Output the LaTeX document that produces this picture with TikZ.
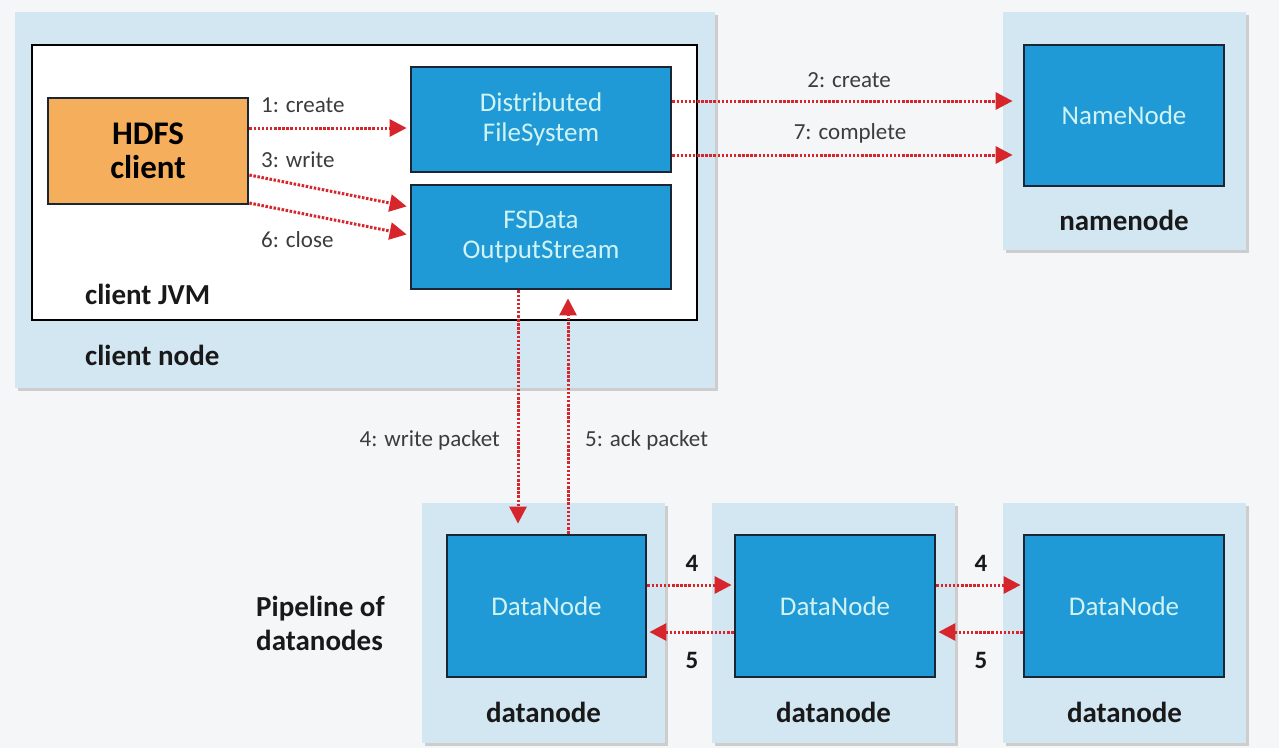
\documentclass[tikz,border=0pt]{standalone}
\usepackage{fontspec}
\setmainfont{Carlito}
\usetikzlibrary{arrows.meta,shadows}
\definecolor{bg}{HTML}{F5F6F8}
\definecolor{nodebg}{HTML}{D3E7F3}
\definecolor{comp}{HTML}{1F9AD6}
\definecolor{comptext}{HTML}{D2F3F3}
\definecolor{compborder}{HTML}{1A2633}
\definecolor{orangebox}{HTML}{F5AE5B}
\definecolor{arrowred}{HTML}{D7262B}
\definecolor{labelgrey}{HTML}{3C3C3C}
\tikzset{
  hostbox/.style={fill=nodebg, draw=none, inner sep=0pt,
    drop shadow={shadow xshift=3pt, shadow yshift=-3pt, fill=black!35, opacity=.5}},
  jvmbox/.style={fill=white, draw=black, line width=2.5pt, inner sep=0pt},
  compbox/.style={fill=comp, draw=compborder, line width=2.8pt, inner sep=0pt,
    text=comptext, align=center, font=\fontsize{27}{30}\selectfont},
  clientbox/.style={fill=orangebox, draw=compborder, line width=2.8pt, inner sep=0pt,
    text=black, align=center, font=\fontsize{33}{34}\selectfont\bfseries},
  hostlabel/.style={font=\fontsize{29}{34}\selectfont\bfseries, text=black!90, inner sep=0pt},
  msg/.style={font=\fontsize{23}{25}\selectfont, text=labelgrey, inner sep=0pt},
  num/.style={font=\fontsize{25}{27}\selectfont\bfseries, text=black!90, inner sep=0pt},
  arr/.style={draw=arrowred, line width=3pt, dash pattern=on 2.5pt off 1.6pt,
    -{Triangle[length=17pt,width=17pt]}, arrowred},
}
\begin{document}
\begin{tikzpicture}[x=1pt,y=-1pt]
\fill[bg] (0,0) rectangle (1279,748);
\useasboundingbox (0,0) rectangle (1279,748);

% client node
\node[hostbox, minimum width=700pt, minimum height=376pt] (clientnode) at (365,200) {};
\node[jvmbox, minimum width=665pt, minimum height=275pt] (jvm) at (364.5,182.5) {};
\node[clientbox, minimum width=200pt, minimum height=106pt] (hdfs) at (148,151) {HDFS\\client};
\node[compbox, minimum width=260pt, minimum height=105pt] (dfs) at (541,119.5) {Distributed\\FileSystem};
\node[compbox, minimum width=260pt, minimum height=104pt] (fsdos) at (541,237) {FSData\\OutputStream};
\node[hostlabel, anchor=west] (jvmlabel) at (85,294) {client JVM};
\node[hostlabel, anchor=west] (cnlabel) at (85,355) {client node};

% namenode
\node[hostbox, minimum width=243pt, minimum height=238pt] (nnhost) at (1124.5,131) {};
\node[compbox, minimum width=200pt, minimum height=141pt] (nn) at (1124,115.5) {NameNode};
\node[hostlabel] (nnlabel) at (1124,220) {namenode};

% datanodes
\node[hostbox, minimum width=243pt, minimum height=240pt] (dnhost1) at (543.5,623) {};
\node[hostbox, minimum width=243pt, minimum height=240pt] (dnhost2) at (833.5,623) {};
\node[hostbox, minimum width=243pt, minimum height=240pt] (dnhost3) at (1124.5,623) {};
\node[compbox, minimum width=199pt, minimum height=142pt] (dn1) at (546.5,606) {DataNode};
\node[compbox, minimum width=200pt, minimum height=142pt] (dn2) at (835,606) {DataNode};
\node[compbox, minimum width=200pt, minimum height=142pt] (dn3) at (1124,606) {DataNode};
\node[hostlabel] (dnlabel1) at (543.5,712) {datanode};
\node[hostlabel] (dnlabel2) at (833.5,712) {datanode};
\node[hostlabel] (dnlabel3) at (1124.5,712) {datanode};
\node[hostlabel, anchor=west, align=left] (pipe) at (256,623) {Pipeline of\\datanodes};

% client arrows
\draw[arr, shorten >=3pt] ([yshift=23pt]hdfs.east) -- ([yshift=23pt]hdfs.east -| dfs.west);
\draw[arr, shorten >=3pt] ([yshift=-24pt]hdfs.east) -- ([yshift=30pt]fsdos.west);
\draw[arr, shorten >=3pt] ([yshift=-52pt]hdfs.east) -- ([yshift=2pt]fsdos.west);
\node[msg, anchor=west] (l1) at (261,105) {1: create};
\node[msg, anchor=west] (l3) at (261,160) {3: write};
\node[msg, anchor=west] (l6) at (261,240) {6: close};

% namenode arrows
\draw[arr, shorten >=10pt] ([yshift=18.5pt]dfs.east) -- ([yshift=18.5pt]dfs.east -| nn.west);
\draw[arr, shorten >=10pt] ([yshift=-35.5pt]dfs.east) -- ([yshift=-35.5pt]dfs.east -| nn.west);
\node[msg] (l2) at (849,80) {2: create};
\node[msg] (l7) at (850,133) {7: complete};

% packet arrows
\draw[arr, shorten >=10pt] ([xshift=-23pt]fsdos.south) -- ([xshift=-23pt]fsdos.south |- dn1.north);
\draw[arr, shorten >=8pt] ([xshift=27pt]fsdos.south |- dn1.north) -- ([xshift=27pt]fsdos.south);
\node[msg, anchor=east] (l4) at (500,440) {4: write packet};
\node[msg, anchor=west] (l5) at (585,440) {5: ack packet};

% pipeline arrows
\draw[arr, shorten >=2pt] ([yshift=21pt]dn1.east) -- ([yshift=21pt]dn1.east -| dn2.west);
\draw[arr, shorten >=2pt] ([yshift=-26pt]dn2.west) -- ([yshift=-26pt]dn2.west -| dn1.east);
\draw[arr, shorten >=2pt] ([yshift=21pt]dn2.east) -- ([yshift=21pt]dn2.east -| dn3.west);
\draw[arr, shorten >=2pt] ([yshift=-26pt]dn3.west) -- ([yshift=-26pt]dn3.west -| dn2.east);
\node[num] (n4a) at (692,563) {4};
\node[num] (n5a) at (692,660) {5};
\node[num] (n4b) at (981,563) {4};
\node[num] (n5b) at (981,660) {5};
\end{tikzpicture}
\end{document}
